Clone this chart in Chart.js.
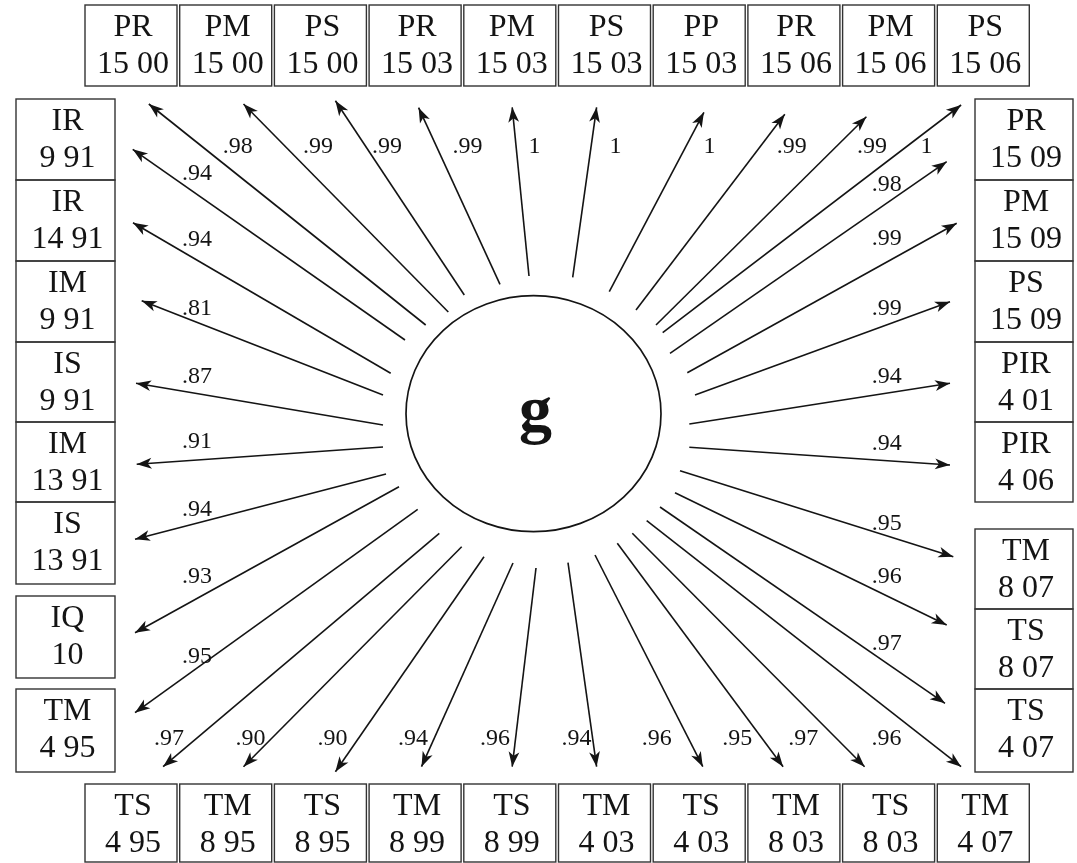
<!DOCTYPE html>
<html>
<head>
<meta charset="utf-8">
<script src="https://cdn.jsdelivr.net/npm/chart.js@4/dist/chart.umd.min.js"></script>
<style>
  html, body { margin: 0; padding: 0; background: #ffffff; }
  canvas { display: block; }
</style>
</head>
<body>
<canvas id="diagram" width="1077" height="863"></canvas>
<script>
// ---- Model: one general factor g with standardized loadings on 36 indicators ----
const factorName = 'g';

// top row, left to right
const topNames    = ['PR', 'PM', 'PS', 'PR', 'PM', 'PS', 'PP', 'PR', 'PM', 'PS'];
const topWaves    = ['15 00', '15 00', '15 00', '15 03', '15 03', '15 03', '15 03', '15 06', '15 06', '15 06'];
const topLoadings = [0.98, 0.99, 0.99, 0.99, 1, 1, 1, 0.99, 0.99, 1];

// right column, top to bottom
const rightNames    = ['PR', 'PM', 'PS', 'PIR', 'PIR', 'TM', 'TS', 'TS'];
const rightWaves    = ['15 09', '15 09', '15 09', '4 01', '4 06', '8 07', '8 07', '4 07'];
const rightLoadings = [0.98, 0.99, 0.99, 0.94, 0.94, 0.95, 0.96, 0.97];

// bottom row, left to right
const bottomNames    = ['TS', 'TM', 'TS', 'TM', 'TS', 'TM', 'TS', 'TM', 'TS', 'TM'];
const bottomWaves    = ['4 95', '8 95', '8 95', '8 99', '8 99', '4 03', '4 03', '8 03', '8 03', '4 07'];
const bottomLoadings = [0.97, 0.90, 0.90, 0.94, 0.96, 0.94, 0.96, 0.95, 0.97, 0.96];

// left column, top to bottom
const leftNames    = ['IR', 'IR', 'IM', 'IS', 'IM', 'IS', 'IQ', 'TM'];
const leftWaves    = ['9 91', '14 91', '9 91', '9 91', '13 91', '13 91', '10', '4 95'];
const leftLoadings = [0.94, 0.94, 0.81, 0.87, 0.91, 0.94, 0.93, 0.95];

// ---- Layout (diagram units, one unit per pixel of the 1077 x 863 canvas) ----
const W = 1077, H = 863;
const factorEllipse = { cx: 533.5, cy: 413.7, rx: 127.5, ry: 118 };

// box frames
const rowLeft = 85, rowPitch = 94.7, rowBoxW = 92;
const topRowY = [5, 86], bottomRowY = [784, 862];
const leftColX = [16, 115], rightColX = [975, 1073];
const leftColY  = [[99, 180], [180, 261], [261, 342], [342, 422], [422, 502], [502, 584], [596, 678], [689, 772]];
const rightColY = [[99, 180], [180, 261], [261, 342], [342, 422], [422, 502], [529, 609], [609, 689], [689, 772]];

// arrow tails (near the factor) and heads (near the indicator boxes)
const topArrows = [
  [[425.7, 325], [148.8, 104]], [[448.3, 312], [243.5, 104]], [[464.3, 295], [335.4, 100.7]],
  [[500, 284.3], [418.6, 107.7]], [[529, 276], [512.2, 107.3]], [[572.7, 277.3], [596.6, 107.3]],
  [[609.3, 291.7], [703.9, 112.3]], [[636, 310], [784.8, 114.3]], [[656, 325], [866.4, 116.7]],
  [[662.7, 332.7], [961.1, 105]]
];
const rightArrows = [
  [[670, 353.3], [946.7, 161.7]], [[687.3, 372.7], [956.7, 223.3]], [[695, 395], [950, 301.7]],
  [[689.3, 424], [950, 383.3]], [[689.3, 447.3], [950, 465]], [[680, 470.7], [953.3, 556.7]],
  [[675, 492.7], [946.7, 625]], [[660, 507], [945, 703.3]]
];
const bottomArrows = [
  [[439.3, 533.3], [163.1, 766.7]], [[461.7, 546.7], [243.5, 766.7]], [[484, 556.7], [335.4, 771.7]],
  [[513, 563], [421.5, 766.7]], [[536, 568], [512.2, 766.7]], [[568, 562.7], [596.6, 766.7]],
  [[595, 555], [702.8, 766.7]], [[617.3, 543.3], [783.1, 766.7]], [[632.3, 533.3], [864.6, 766.7]],
  [[646.7, 520.7], [961.1, 766.7]]
];
const leftArrows = [
  [[405, 340], [132.7, 149.3]], [[390.7, 373.3], [133, 222.7]], [[383, 395], [141.7, 300.7]],
  [[383, 425], [136, 383.3]], [[383, 447], [136.7, 464.3]], [[386, 474], [135, 539.3]],
  [[399, 486.7], [135, 632.7]], [[417.7, 509.3], [135, 712.7]]
];

// loading label anchors (text centres)
const topLabelY = 145, topLabelX = [237.8, 318.1, 387, 467.4, 534.6, 615.5, 709.6, 791.7, 872.1, 926.6];
const rightLabelX = 886.7, rightLabelY = [183.3, 236.7, 306.7, 375, 441.7, 521.7, 575, 641.7];
const bottomLabelY = 736.7, bottomLabelX = [168.9, 250.4, 332.5, 412.9, 495, 576.5, 656.8, 737.2, 803.2, 886.5];
const leftLabelX = 197, leftLabelY = [171.7, 238, 306.7, 375, 440, 508.3, 575, 655];

// styles
const ink = '#141414';
const frameColor = '#333333';
const serif = '"Liberation Serif", "Times New Roman", Times, serif';
const boxFont = '32px ' + serif;
const loadingFont = '24px ' + serif;
const factorFont = 'bold 66px ' + serif;

// ---- helpers ----
function fmtLoading(v) {
  return v >= 1 ? String(v) : v.toFixed(2).replace(/^0/, '');
}

// collect indicator frames in drawing order
const boxes = [];
topNames.forEach((n, i) => boxes.push({ name: n, wave: topWaves[i],
  x0: rowLeft + i * rowPitch, x1: rowLeft + i * rowPitch + rowBoxW, y0: topRowY[0], y1: topRowY[1] }));
bottomNames.forEach((n, i) => boxes.push({ name: n, wave: bottomWaves[i],
  x0: rowLeft + i * rowPitch, x1: rowLeft + i * rowPitch + rowBoxW, y0: bottomRowY[0], y1: bottomRowY[1] }));
leftNames.forEach((n, i) => boxes.push({ name: n, wave: leftWaves[i],
  x0: leftColX[0], x1: leftColX[1], y0: leftColY[i][0], y1: leftColY[i][1] }));
rightNames.forEach((n, i) => boxes.push({ name: n, wave: rightWaves[i],
  x0: rightColX[0], x1: rightColX[1], y0: rightColY[i][0], y1: rightColY[i][1] }));

// loading labels
const labels = [];
topLoadings.forEach((v, i) => labels.push({ text: fmtLoading(v), x: topLabelX[i], y: topLabelY }));
rightLoadings.forEach((v, i) => labels.push({ text: fmtLoading(v), x: rightLabelX, y: rightLabelY[i] }));
bottomLoadings.forEach((v, i) => labels.push({ text: fmtLoading(v), x: bottomLabelX[i], y: bottomLabelY }));
leftLoadings.forEach((v, i) => labels.push({ text: fmtLoading(v), x: leftLabelX, y: leftLabelY[i] }));

// one line dataset per path g -> indicator
const allArrows = [...topArrows, ...rightArrows, ...bottomArrows, ...leftArrows];
const datasets = allArrows.map(([from, to]) => ({
  data: [{ x: from[0], y: from[1] }, { x: to[0], y: to[1] }],
  showLine: true,
  borderColor: ink,
  borderWidth: 1.6,
  pointRadius: 0,
  pointHoverRadius: 0,
  fill: false,
  tension: 0
}));

// draws the factor ellipse, arrowheads, indicator boxes and all text
const pathDiagram = {
  id: 'pathDiagram',
  afterDatasetsDraw(chart) {
    const { ctx, scales: { x, y } } = chart;
    const px = v => x.getPixelForValue(v);
    const py = v => y.getPixelForValue(v);
    ctx.save();

    // arrowheads
    chart.data.datasets.forEach(ds => {
      const a = ds.data[0], b = ds.data[1];
      const ax = px(a.x), ay = py(a.y), bx = px(b.x), by = py(b.y);
      const len = Math.hypot(bx - ax, by - ay);
      const ux = (bx - ax) / len, uy = (by - ay) / len;
      const nx = -uy, ny = ux;
      const L = 15, Wd = 5.4, notch = 11;
      ctx.beginPath();
      ctx.moveTo(bx, by);
      ctx.lineTo(bx - L * ux + Wd * nx, by - L * uy + Wd * ny);
      ctx.lineTo(bx - notch * ux, by - notch * uy);
      ctx.lineTo(bx - L * ux - Wd * nx, by - L * uy - Wd * ny);
      ctx.closePath();
      ctx.fillStyle = ink;
      ctx.fill();
    });

    // factor ellipse
    const e = factorEllipse;
    ctx.beginPath();
    ctx.ellipse(px(e.cx), py(e.cy), px(e.cx + e.rx) - px(e.cx), Math.abs(py(e.cy + e.ry) - py(e.cy)), 0, 0, Math.PI * 2);
    ctx.fillStyle = '#ffffff';
    ctx.fill();
    ctx.lineWidth = 1.7;
    ctx.strokeStyle = ink;
    ctx.stroke();
    ctx.font = factorFont;
    ctx.fillStyle = ink;
    ctx.textAlign = 'center';
    ctx.textBaseline = 'alphabetic';
    ctx.fillText(factorName, px(e.cx + 2), py(e.cy + 17));

    // indicator boxes
    boxes.forEach(b => {
      const x0 = px(b.x0), x1 = px(b.x1), y0 = py(b.y0), y1 = py(b.y1);
      ctx.lineWidth = 1.4;
      ctx.strokeStyle = frameColor;
      ctx.strokeRect(x0, y0, x1 - x0, y1 - y0);
      ctx.font = boxFont;
      ctx.fillStyle = ink;
      ctx.textAlign = 'center';
      ctx.textBaseline = 'alphabetic';
      const cx = (x0 + x1) / 2 + 2;
      ctx.fillText(b.name, cx, y0 + 31);
      ctx.fillText(b.wave, cx, y0 + 68);
    });

    // loading labels
    ctx.font = loadingFont;
    ctx.fillStyle = ink;
    ctx.textAlign = 'center';
    ctx.textBaseline = 'alphabetic';
    labels.forEach(l => ctx.fillText(l.text, px(l.x), py(l.y) + 8));

    ctx.restore();
  }
};

new Chart(document.getElementById('diagram'), {
  type: 'scatter',
  data: { datasets },
  options: {
    responsive: false,
    animation: false,
    devicePixelRatio: 1,
    events: [],
    layout: { padding: 0 },
    scales: {
      x: { type: 'linear', min: 0, max: W, display: false },
      y: { type: 'linear', min: 0, max: H, reverse: true, display: false }
    },
    plugins: {
      legend: { display: false },
      tooltip: { enabled: false }
    }
  },
  plugins: [pathDiagram]
});
</script>
</body>
</html>
